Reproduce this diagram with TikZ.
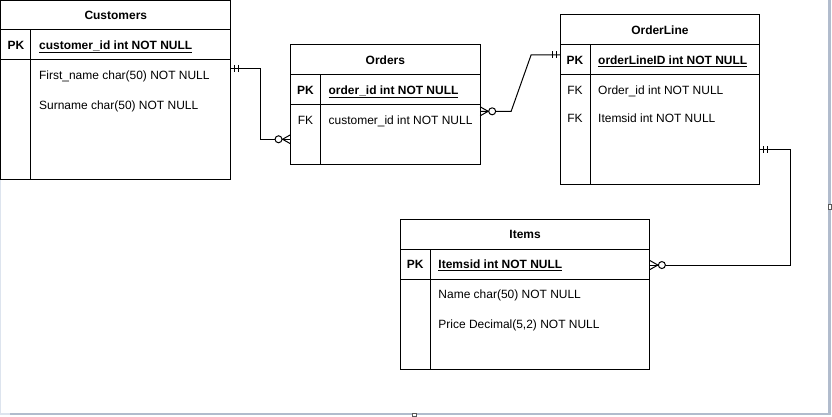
\documentclass[tikz,border=0pt]{standalone}
\usepackage{fontspec}
\setmainfont{Liberation Sans}
\usetikzlibrary{calc}

% crow's-foot markers: #1 = end point on the table edge, #2 = +1 / -1 (side the line leaves towards)
\newcommand\mandone[2]{%
  \draw[link] ([xshift=#2*4pt, yshift=3.5pt]#1) -- ([xshift=#2*4pt, yshift=-3.5pt]#1);
  \draw[link] ([xshift=#2*7.5pt, yshift=3.5pt]#1) -- ([xshift=#2*7.5pt, yshift=-3.5pt]#1);}
\newcommand\zeromany[2]{%
  \draw[link] ([yshift=4.5pt]#1) -- ([xshift=#2*8pt]#1) -- ([yshift=-4.5pt]#1);
  \draw[link, fill=white] ([xshift=#2*12pt]#1) circle[radius=3.5pt];}

\definecolor{edgelight}{HTML}{DDE4EE}
\definecolor{edgedark}{HTML}{B1BCCD}

\begin{document}
\begin{tikzpicture}[x=1pt,y=-1pt,
  tbl/.style={draw, line width=1pt, anchor=north west, inner sep=0pt, outer sep=0pt},
  rule/.style={line width=1pt},
  link/.style={line width=1pt},
  txt/.style={inner sep=0pt, font=\fontsize{12}{14}\selectfont},
  title/.style={txt, anchor=base, font=\fontsize{12}{14}\selectfont\bfseries},
  keytag/.style={txt, anchor=base, font=\fontsize{12}{14}\selectfont\bfseries},
  keyfield/.style={txt, anchor=base west, font=\fontsize{12}{14}\selectfont\bfseries},
  field/.style={txt, anchor=base west},
]
% page and window edges
\fill[white] (0,0) rectangle (832,416);
\fill[edgelight] (0,0) rectangle (1,413.5);
\fill[edgelight] (0,413.5) rectangle (10,416);
\fill[edgedark] (10,413.5) rectangle (832,416);
\fill[edgedark] (829,0) rectangle (832,416);
\draw[black!65, fill=white, line width=0.8pt] (829.6,205) rectangle (833,209.5);
\draw[black!65, fill=white, line width=0.8pt] (413,414) rectangle (417.5,417);
\useasboundingbox (0,0) rectangle (832,416);

% ---- Customers
\node[tbl, minimum width=230pt, minimum height=179.5pt] (cust) at (1,0.5) {};
\draw[rule] (1,30) -- (231,30) (1,60) -- (231,60) (31,30) -- (31,180);
\node[title] (cust-t) at (116,19.4) {Customers};
\node[keytag] (cust-pk) at (16,49.4) {PK};
\node[keyfield] (cust-k) at (39,49.4) {\underline{customer\_id int NOT NULL}};
\node[field] (cust-a1) at (39,79.4) {First\_name char(50) NOT NULL};
\node[field] (cust-a2) at (39,109.4) {Surname char(50) NOT NULL};

% ---- Orders
\node[tbl, minimum width=190pt, minimum height=120pt] (ord) at (291,45) {};
\draw[rule] (291,75) -- (481,75) (291,105) -- (481,105) (321,75) -- (321,165);
\node[title] (ord-t) at (386,64.4) {Orders};
\node[keytag] (ord-pk) at (306,94.4) {PK};
\node[keyfield] (ord-k) at (329,94.4) {\underline{order\_id int NOT NULL}};
\node[keytag] (ord-fk) at (306,124.4) {\mdseries FK};
\node[field] (ord-a1) at (329,124.4) {customer\_id int NOT NULL};

% ---- OrderLine
\node[tbl, minimum width=200pt, minimum height=170pt] (ol) at (561,15) {};
\draw[rule] (561,45) -- (761,45) (561,75) -- (761,75) (591,45) -- (591,185);
\node[title] (ol-t) at (661,34.4) {OrderLine};
\node[keytag] (ol-pk) at (576,64.4) {PK};
\node[keyfield] (ol-k) at (599,64.4) {\underline{orderLineID int NOT NULL}};
\node[keytag] (ol-fk1) at (576,94.4) {\mdseries FK};
\node[field] (ol-a1) at (599,94.4) {Order\_id int NOT NULL};
\node[keytag] (ol-fk2) at (576,122.4) {\mdseries FK};
\node[field] (ol-a2) at (599,122.4) {Itemsid int NOT NULL};

% ---- Items
\node[tbl, minimum width=250pt, minimum height=150pt] (items) at (401,220) {};
\draw[rule] (401,250) -- (651,250) (401,280) -- (651,280) (431,250) -- (431,370);
\node[title] (items-t) at (526,239.4) {Items};
\node[keytag] (items-pk) at (416,269.4) {PK};
\node[keyfield] (items-k) at (439,269.4) {\underline{Itemsid int NOT NULL}};
\node[field] (items-a1) at (439,299.4) {Name char(50) NOT NULL};
\node[field] (items-a2) at (439,329.4) {Price Decimal(5,2) NOT NULL};

% ---- connector end points on the table edges
\coordinate (cust-out) at (cust.east |- 0,68.5);
\coordinate (ord-in)   at (ord.west  |- 0,139.5);
\coordinate (ord-out)  at (ord.east  |- 0,111.5);
\coordinate (ol-in)    at (ol.west   |- 0,55);
\coordinate (ol-out)   at (ol.east   |- 0,150);
\coordinate (items-in) at (items.east |- 0,265.5);

% ---- relationships
\draw[link] (cust-out) -- ++(30,0) |- (ord-in);
\mandone{cust-out}{1}
\zeromany{ord-in}{-1}

\draw[link] (ord-out) -- ++(31,0) -- ([xshift=-29pt]ol-in) -- (ol-in);
\zeromany{ord-out}{1}
\mandone{ol-in}{-1}

\draw[link] (ol-out) -- ++(31,0) |- (items-in);
\mandone{ol-out}{1}
\zeromany{items-in}{1}
\end{tikzpicture}
\end{document}
